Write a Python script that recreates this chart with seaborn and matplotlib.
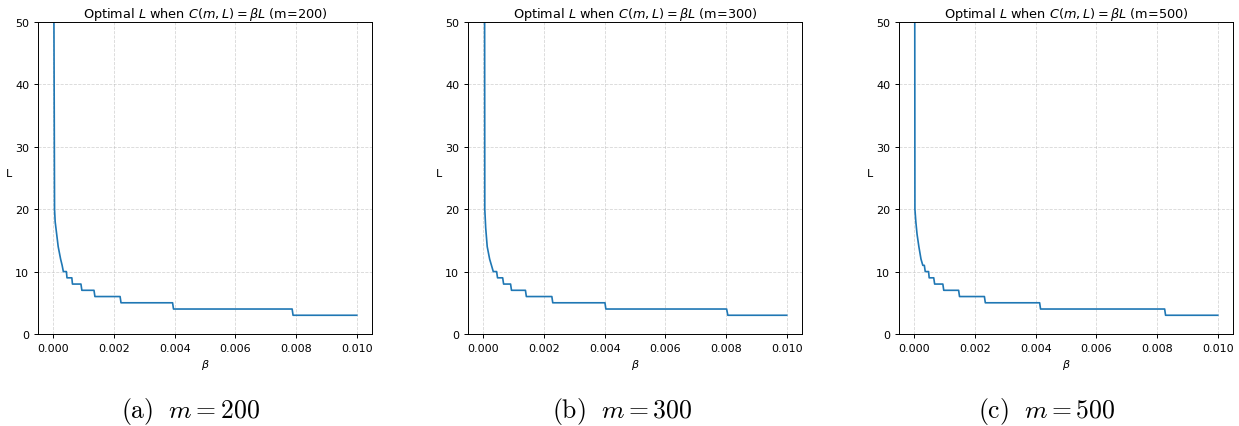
import numpy as np
import pandas as pd
import matplotlib
matplotlib.use('Agg')
import matplotlib.pyplot as plt
import seaborn as sns

# 数据（β 与最优 L）
m_values = [200, 300, 500]
captions = ['(a)', '(b)', '(c)']

beta_200 = [0.00002, 0.00004, 0.00006, 0.00011, 0.00016, 0.00024, 0.00029, 0.00033, 0.00043, 0.00045,
            0.00061, 0.00063, 0.00091, 0.00094, 0.00134, 0.00137, 0.00220, 0.00223, 0.00393, 0.00396,
            0.00787, 0.00790, 0.0100]
L_200 = [50, 20, 18, 16, 14, 12, 11, 10, 10, 9, 9, 8, 8, 7, 7, 6, 6, 5, 5, 4, 4, 3, 3]

beta_300 = [0.000045, 0.00005, 0.00008, 0.00013, 0.00021, 0.00027, 0.00033, 0.00044, 0.00047, 0.00064,
            0.00067, 0.00090, 0.00093, 0.00139, 0.00142, 0.00226, 0.00229, 0.00401, 0.00404, 0.00802,
            0.00806, 0.0100]
L_300 = [50, 20, 17, 14, 12, 11, 10, 10, 9, 9, 8, 8, 7, 7, 6, 6, 5, 5, 4, 4, 3, 3]

beta_500 = [0.000015, 0.00002, 0.00005, 0.00009, 0.00015, 0.00022, 0.00028, 0.00033, 0.00036, 0.00047,
            0.00049, 0.00064, 0.00067, 0.00094, 0.00097, 0.00146, 0.00149, 0.00231, 0.00234, 0.00413,
            0.00416, 0.00825, 0.00828, 0.0100]
L_500 = [50, 20, 18, 16, 14, 12, 11, 11, 10, 10, 9, 9, 8, 8, 7, 7, 6, 6, 5, 5, 4, 4, 3, 3]

series = {200: (beta_200, L_200), 300: (beta_300, L_300), 500: (beta_500, L_500)}

fig = plt.figure(figsize=(12.39, 4.27), dpi=100)

lefts = [0.0308, 0.3778, 0.7257]
caption_x = [0.154, 0.502, 0.845]

for i, m in enumerate(m_values):
    ax = fig.add_axes([lefts[i], 0.2155, 0.2694, 0.7307])
    b, L = series[m]
    df = pd.DataFrame({'beta': b, 'L': L})
    sns.lineplot(data=df, x='beta', y='L', ax=ax, color='#1f77b4', linewidth=1.2,
                 estimator=None, sort=False)

    ax.set_xlim(-0.0005, 0.0105)
    ax.set_ylim(0, 50)
    ax.set_xticks([0, 0.002, 0.004, 0.006, 0.008, 0.010])
    ax.set_xticklabels(['0.000', '0.002', '0.004', '0.006', '0.008', '0.010'])
    ax.set_yticks([0, 10, 20, 30, 40, 50])
    ax.tick_params(labelsize=8, length=3, width=0.7)
    for s in ax.spines.values():
        s.set_linewidth(0.7)

    ax.set_title(rf'Optimal $L$ when $C(m, L) = \beta L$ (m={m})', fontsize=9.3, pad=3)
    ax.set_xlabel(r'$\beta$', fontsize=8, labelpad=3)
    ax.set_ylabel('L', fontsize=8, rotation=0, labelpad=4)
    ax.grid(True, linestyle='--', alpha=0.5, linewidth=0.6)

    # 子图说明文字
    fig.text(caption_x[i], 0.036, rf'$\mathrm{{{captions[i]}}}\ \ m = {m}$', ha='center', va='center',
             fontsize=18.5, math_fontfamily='cm')

plt.savefig('out.png', dpi=100)
